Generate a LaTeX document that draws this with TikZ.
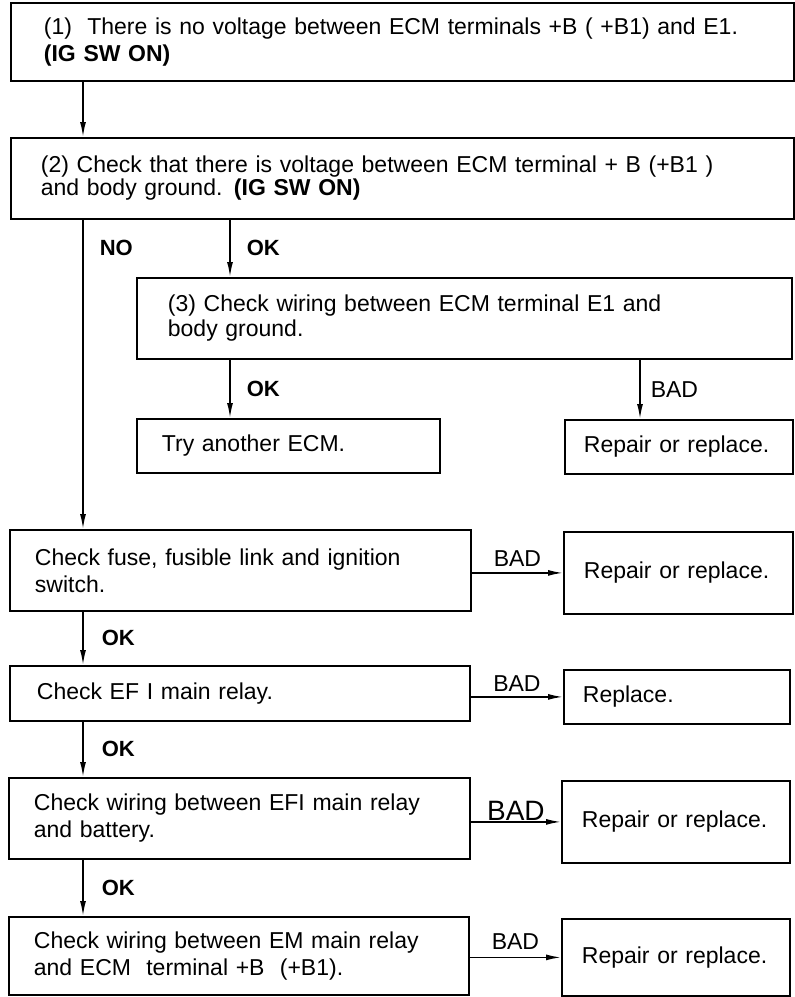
\documentclass[tikz,border=0pt]{standalone}
\usepackage{fontspec}
\setmainfont{Liberation Sans}
\usepackage{tikz}
\usetikzlibrary{arrows.meta,positioning}

\begin{document}
\begin{tikzpicture}[x=1pt,y=-1pt,
  box/.style={draw,line width=1.8pt,anchor=north west,align=left,inner ysep=0pt,font=\fontsize{23}{27}\selectfont},
  lbl/.style={font=\fontsize{22}{26}\selectfont\bfseries,inner sep=0pt},
  bad/.style={font=\fontsize{23}{27}\selectfont,inner sep=0pt},
  arr/.style={line width=1.6pt,-{Latex[length=15pt,width=6pt]}}]
\useasboundingbox (0,0) rectangle (795,997);
\coordinate (colL) at (83,0);
\coordinate (colM) at (230,0);
\coordinate (colR) at (640,0);
% main checks
\node[box,minimum height=78pt,inner xsep=33pt,text width=717pt] (b1) at (10,2) {(1)\ \ There is no voltage between ECM terminals +B ( +B1) and E1.\\\textbf{(IG SW ON)}};
\node[box,minimum height=81pt,inner xsep=30pt,text width=723pt,font=\fontsize{23}{23}\selectfont] (b2) at (10,137) {(2) Check that there is voltage between ECM terminal + B (+B1 )\\and body ground. \textbf{(IG SW ON)}};
\node[box,minimum height=81pt,inner xsep=31pt,text width=593pt,font=\fontsize{23}{25}\selectfont] (b3) at (136,277) {(3) Check wiring between ECM terminal E1 and\\body ground.};
\node[box,minimum height=54pt,inner xsep=25pt,text width=253pt] (try) at (136,418) {Try another ECM.};
\node[box,minimum height=54pt,inner xsep=19pt,text width=190pt] (rep1) at (564,419) {Repair or replace.};
% no voltage branch
\node[box,minimum height=81pt,inner xsep=25pt,text width=411pt] (fuse) at (9,529) {Check fuse, fusible link and ignition\\switch.};
\node[box,minimum height=82pt,inner xsep=20pt,text width=189pt] (rep2) at (563,531) {Repair or replace.};
\node[box,minimum height=55pt,inner xsep=27pt,text width=406pt] (relay) at (9,665) {Check EF I main relay.};
\node[box,minimum height=54pt,inner xsep=19pt,text width=188pt] (repl) at (563,669) {Replace.};
\node[box,minimum height=81pt,inner xsep=25pt,text width=411pt] (efi) at (8,777) {Check wiring between EFI main relay\\and battery.};
\node[box,minimum height=82pt,inner xsep=20pt,text width=188pt] (rep3) at (561,780) {Repair or replace.};
\node[box,minimum height=78pt,inner xsep=25pt,text width=410pt] (em) at (8,916) {Check wiring between EM main relay\\and ECM\ \ terminal +B\ \ (+B1).};
\node[box,minimum height=77pt,inner xsep=20pt,text width=188pt] (rep4) at (561,918) {Repair or replace.};
% connectors
\draw[arr] (b1.south -| colL) -- (b2.north -| colL);
\draw[arr] (b2.south -| colL) -- node[lbl,pos=.09,right=16pt] {NO} (fuse.north -| colL);
\draw[arr] (b2.south -| colM) -- node[lbl,midway,right=16pt] {OK} (b3.north -| colM);
\draw[arr] (b3.south -| colM) -- node[lbl,midway,right=16pt] {OK} (try.north -| colM);
\draw[arr] (b3.south -| colR) -- node[bad,midway,right=10pt] {BAD} (rep1.north -| colR);
\draw[arr] (fuse.east |- rep2.west) -- node[bad,midway,above=6pt] {BAD} (rep2.west);
\draw[arr] (fuse.south -| colL) -- node[lbl,midway,right=18pt] {OK} (relay.north -| colL);
\draw[arr] (relay.east |- repl.west) -- node[bad,midway,above=5pt] {BAD} (repl.west);
\draw[arr] (relay.south -| colL) -- node[lbl,midway,right=18pt] {OK} (efi.north -| colL);
\draw[arr] (efi.east |- rep3.west) -- node[midway,above=1pt,inner sep=0pt,font=\fontsize{28}{30}\selectfont] {BAD} (rep3.west);
\draw[arr] (efi.south -| colL) -- node[lbl,midway,right=18pt] {OK} (em.north -| colL);
\draw[arr] (em.east |- rep4.west) -- node[bad,midway,above=7pt] {BAD} (rep4.west);
\end{tikzpicture}
\end{document}
